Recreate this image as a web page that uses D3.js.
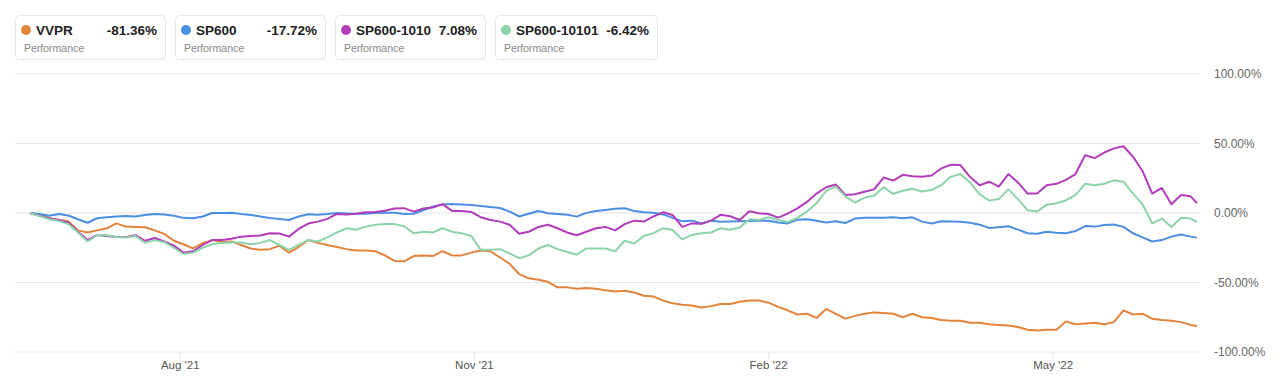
<!DOCTYPE html>
<html>
<head>
<meta charset="utf-8">
<script src="https://cdn.jsdelivr.net/npm/d3@7"></script>
<style>
  body { margin: 0; background: #fff; }
  svg { display: block; font-family: "Liberation Sans", Arial, sans-serif; }
</style>
</head>
<body>
<svg id="chart" width="1280" height="386"></svg>
<script>
// sampled every 3 days from 2021-06-15, plus the last day 2022-06-15
var startDate = new Date(2021, 5, 15),
  endDate = new Date(2022, 5, 15);
var dates = d3.range(122).map(i => d3.timeDay.offset(startDate, i * 3)).concat([endDate]);

var seriesNames = ["VVPR", "SP600", "SP600-1010", "SP600-101010"];
var lastValues = [-81.36, -17.72, 7.08, -6.42];
var colors = ["#e3843c", "#4b8fe2", "#b23cbb", "#8dd3a9"];

var vvpr = [0, -1.5, -3.5, -5, -6, -12.5, -14, -12.5, -11, -7.5,
  -9.8, -10, -10.3, -12.5, -15, -20, -22.5, -25.5, -21.7, -19.5,
  -20.8, -20.5, -23, -25.5, -26.5, -26, -23.5, -28.5, -24.5, -19.5,
  -21.5, -23, -24.5, -26, -27, -27, -27.5, -30.5, -34.5, -34.8,
  -31, -30.5, -31, -27.5, -30.5, -30.5, -28.5, -27, -27.5, -32,
  -36.5, -44, -47, -48, -49.5, -53.5, -53.5, -54.5, -54, -54.5,
  -55.5, -56.5, -56, -57.2, -59.5, -60, -63, -65, -66, -66.5,
  -68, -67, -65.5, -65.5, -63.8, -63, -63, -64.5, -67.5, -70,
  -73, -72.5, -75.5, -69, -72.5, -76, -74, -72.5, -71.5, -72,
  -72.5, -75, -72.5, -75, -75.5, -77, -77.5, -77.5, -79, -79,
  -80, -80.5, -81, -82, -84, -84.5, -84, -84, -78, -80,
  -79.5, -79, -80, -78.5, -70, -73, -72.5, -76, -77, -77.5,
  -78.5, -80.5, -81.36];

var sp600 = [0, -0.7, -2, -0.7, -1.8, -4.5, -7, -3.8, -3, -2.5,
  -2.2, -2.5, -1.4, -0.7, -1, -2, -3.5, -3.8, -2.5, 0,
  0, 0.2, -0.7, -1.4, -2.5, -3.6, -4.3, -5, -2.5, -0.9,
  -1.3, -0.8, 0, -0.3, -0.6, -0.5, 0, 0.2, 0.2, -0.8,
  -0.5, 2, 4.5, 6.1, 6.4, 6.1, 5.8, 5, 4.3, 3.6,
  1, -2.5, -0.5, 1.5, -0.2, -0.7, -1.2, -2.6, 0.1, 1.5,
  2.2, 3, 3.4, 1.5, 0.5, 0.1, -1, -3.5, -6, -5.5,
  -7.5, -5.5, -6.3, -6.2, -6, -5.7, -5.5, -5.5, -6.8, -7.5,
  -4.8, -4.5, -5.5, -6.8, -6, -7.2, -4, -3.4, -3.5, -3.4,
  -3, -3.8, -3.1, -6.2, -7.5, -6, -6.1, -6.3, -7, -8.4,
  -10.8, -10.2, -9.5, -12, -14.6, -15, -13.5, -14.2, -14.6, -13,
  -9.4, -9.8, -8.6, -8.3, -10, -14.6, -17.5, -20.5, -19.5, -17,
  -15.4, -17, -17.72];

var sp6001010 = [0, -2, -4, -5, -7, -13.5, -19.5, -15.8, -16.5, -17.3,
  -17.3, -16, -20, -18, -20.5, -23.5, -28.5, -27.5, -23, -19.5,
  -19.5, -18.5, -17, -16.5, -16.2, -14.5, -14.8, -17, -11.5, -7.6,
  -6.2, -4.2, -0.7, -1, -0.5, 0.5, 0.8, 1.6, 3.3, 3.5,
  1, 3.2, 4, 6.4, 1.5, 1.5, 0.8, -3, -5, -6.2,
  -8.5, -15, -13.5, -10, -8.5, -11, -14, -16, -13.5, -11,
  -10, -12.5, -8, -5.5, -6.2, -2.5, 0.5, -1.5, -10, -7.5,
  -7.8, -5.5, -1.3, -2.3, -5, 1.2, -0.2, -0.7, -3.3, -0.5,
  3.3, 8, 14, 18.5, 20.5, 13, 13.5, 15.3, 17, 25.5,
  23.3, 27.5, 26.5, 26, 27, 32, 34.8, 34.5, 26, 20,
  22.5, 19, 28, 22, 14, 14, 20, 21, 23.8, 28,
  41.5, 39.5, 43.5, 46.5, 48, 40.5, 30, 14, 18, 6.3,
  13, 12, 7.08];

var sp600101010 = [0, -2.2, -4.5, -5.8, -8, -14, -20.5, -15.8, -16, -17.3,
  -17.6, -16.5, -21.5, -19.5, -21, -25, -29.5, -28.5, -25, -22.5,
  -21.5, -21.3, -21.3, -22.5, -21.5, -19.5, -23, -26.5, -23, -19.5,
  -20.5, -17.5, -14, -11, -12, -9.8, -8.5, -8, -8, -9.5,
  -14.5, -13.5, -14, -11, -13.5, -14.5, -16.5, -26.5, -26.5, -26,
  -29, -32.5, -30.5, -25.5, -23, -26, -28, -30, -25.5, -25.5,
  -25.5, -27.5, -20, -22, -16.5, -14.5, -11, -12.3, -19, -15.8,
  -14.5, -14, -11, -12, -10.5, -4.5, -5, -3, -5, -6.5,
  -3.5, 1, 7, 16, 19, 12, 7.5, 11, 12.5, 18.5,
  13.8, 16, 17.5, 15.5, 16.5, 20, 26, 28, 22, 13.5,
  9, 10, 17, 10, 2, 1, 6, 7, 9, 13,
  21, 20, 21, 23.5, 22.5, 14, 6, -7.5, -4, -10,
  -3.5, -4, -6.42];

var allSeries = [vvpr, sp600, sp6001010, sp600101010];
var yTicks = [100, 50, 0, -50, -100];
var xTickDates = [new Date(2021, 7, 1), new Date(2021, 10, 1), new Date(2022, 1, 1), new Date(2022, 4, 1)];

var svg = d3.select("#chart");
// plain hyphen for negatives
var pct = d3.formatLocale({ decimal: ".", thousands: ",", grouping: [3], currency: ["", ""], minus: "-" }).format(".2f");

var x = d3.scaleTime().domain([startDate, endDate]).range([30, 1197]);
var y = d3.scaleLinear().domain([-100, 100]).range([352, 74]);
var gridLeft = 15, gridRight = 1200;

// grid lines + right labels
var grid = svg.append("g");
grid.selectAll("line")
  .data(yTicks)
  .enter()
  .append("line")
  .attr("x1", gridLeft)
  .attr("x2", gridRight)
  .attr("y1", d => y(d))
  .attr("y2", d => y(d))
  .attr("stroke", "#e4e4e4")
  .attr("stroke-width", 1);

grid.selectAll("text")
  .data(yTicks)
  .enter()
  .append("text")
  .attr("x", 1214)
  .attr("y", d => y(d))
  .attr("dy", "0.35em")
  .attr("font-size", 12)
  .attr("fill", "#666")
  .text(d => pct(d) + "%");

// x axis ticks
var xAxis = svg.append("g");
xAxis.selectAll("line")
  .data(xTickDates)
  .enter()
  .append("line")
  .attr("x1", d => x(d))
  .attr("x2", d => x(d))
  .attr("y1", y(-100))
  .attr("y2", y(-100) + 7)
  .attr("stroke", "#e4e4e4");

xAxis.selectAll("text")
  .data(xTickDates)
  .enter()
  .append("text")
  .attr("x", d => x(d))
  .attr("y", 369)
  .attr("text-anchor", "middle")
  .attr("font-size", 11.5)
  .attr("fill", "#555")
  .text(d3.timeFormat("%b '%y"));

// lines
var line = d3.line()
  .x((d, i) => x(dates[i]))
  .y(d => y(d));

svg.append("g")
  .selectAll("path")
  .data(allSeries)
  .enter()
  .append("path")
  .attr("d", d => line(d))
  .attr("fill", "none")
  .attr("stroke", (d, i) => colors[i])
  .attr("stroke-width", 2)
  .attr("stroke-linejoin", "round");

// legend boxes
var boxX = [15, 175, 335, 495], boxW = [150, 150, 150, 162];
var defs = svg.append("defs");
var legend = svg.append("g")
  .selectAll("g")
  .data(seriesNames)
  .enter()
  .append("g")
  .attr("transform", (d, i) => `translate(${boxX[i]}, 15)`);

legend.append("rect")
  .attr("x", 0.5)
  .attr("y", 0.5)
  .attr("width", (d, i) => boxW[i])
  .attr("height", 44)
  .attr("rx", 4)
  .attr("fill", "#fff")
  .attr("stroke", "#e6e6e6");

legend.append("circle")
  .attr("cx", 11)
  .attr("cy", 15)
  .attr("r", 5)
  .attr("fill", (d, i) => colors[i]);

legend.each(function(d, i) {
  defs.append("clipPath")
    .attr("id", "clip" + i)
    .append("rect")
    .attr("x", 0)
    .attr("y", 0)
    .attr("width", i == 3 ? 104 : 120)
    .attr("height", 30);
});

legend.append("text")
  .attr("x", 21)
  .attr("y", 15)
  .attr("dy", "0.36em")
  .attr("clip-path", (d, i) => `url(#clip${i})`)
  .attr("font-size", 13.5)
  .attr("font-weight", "bold")
  .attr("fill", "#222")
  .text(d => d);

legend.append("text")
  .attr("x", (d, i) => boxW[i] - 8)
  .attr("y", 15)
  .attr("dy", "0.36em")
  .attr("text-anchor", "end")
  .attr("font-size", 13.5)
  .attr("font-weight", "bold")
  .attr("fill", "#222")
  .text((d, i) => pct(lastValues[i]) + "%");

legend.append("text")
  .attr("x", 9)
  .attr("y", 33)
  .attr("dy", "0.35em")
  .attr("font-size", 10.5)
  .attr("fill", "#888")
  .text("Performance");
</script>
</body>
</html>
